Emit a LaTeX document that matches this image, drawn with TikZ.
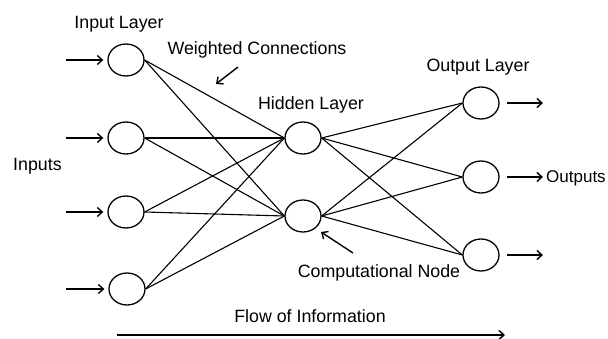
\documentclass[tikz,border=0pt]{standalone}
\usepackage{fontspec}
\setmainfont{Liberation Sans}
\usetikzlibrary{shapes.geometric,arrows.meta}
\begin{document}
\begin{tikzpicture}[x=1pt,y=-1pt,
  neuron/.style={draw,ellipse,line width=1.3pt,minimum width=36pt,minimum height=32pt,inner sep=0pt},
  conn/.style={line width=1.1pt},
  arr/.style={line width=1.4pt,-{Straight Barb[length=5pt,width=9pt,line width=1.4pt]}},
  lbl/.style={anchor=base,inner sep=0pt,font=\fontsize{17.8}{20}\selectfont},
  lblw/.style={anchor=base west,inner sep=0pt,font=\fontsize{17.8}{20}\selectfont}]
\useasboundingbox (0,0) rectangle (608,339);
% nodes
\node[neuron] (i1) at (126,60) {};
\node[neuron] (i2) at (126,138) {};
\node[neuron] (i3) at (126,212) {};
\node[neuron] (i4) at (127,289) {};
\node[neuron] (h1) at (303,138) {};
\node[neuron] (h2) at (303,216) {};
\node[neuron] (o1) at (481,103) {};
\node[neuron] (o2) at (481,177) {};
\node[neuron] (o3) at (481,255) {};
% connections
\foreach \i in {1,2,3,4}{
  \foreach \h in {1,2}{
    \draw[conn] (i\i.east) -- (h\h.west);
  }
}
\foreach \h in {1,2}{
  \foreach \o in {1,2,3}{
    \draw[conn] (h\h.east) -- (o\o.west);
  }
}
% input arrows
\coordinate (a1) at (66,60);
\coordinate (a2) at (66,138);
\coordinate (a3) at (66,212);
\coordinate (a4) at (66,289);
\foreach \i in {1,2,3,4}{
  \draw[arr,shorten >=4pt] (a\i) -- (i\i.west);
}
% output arrows
\coordinate (b1) at (543,103);
\coordinate (b2) at (543,177);
\coordinate (b3) at (543,255);
\foreach \o in {1,2,3}{
  \draw[arr,shorten <=7pt] (o\o.east) -- (b\o);
}
% labels
\node[lbl] (tin) at (119,29) {Input Layer};
\node[lbl] (twc) at (257,55) {Weighted Connections};
\node[lbl] (thl) at (311,110) {Hidden Layer};
\node[lbl] (tol) at (478,72) {Output Layer};
\node[lblw] (tins) at (13,171) {Inputs};
\node[lblw,font=\fontsize{17}{20}\selectfont] (touts) at (546,183) {Outputs};
\node[lbl] (tcn) at (379,277) {Computational Node};
\node[lbl] (tfl) at (310,322) {Flow of Information};
% pointer arrows
\coordinate (wcs) at (238,67);
\coordinate (wce) at (216,84);
\draw[arr] (wcs) -- (wce);
\coordinate (cns) at (353,253);
\coordinate (cne) at (321,232);
\draw[arr] (cns) -- (cne);
% flow arrow
\coordinate (fs) at (117,335);
\coordinate (fe) at (505,335);
\draw[arr] (fs) -- (fe);
\end{tikzpicture}
\end{document}
